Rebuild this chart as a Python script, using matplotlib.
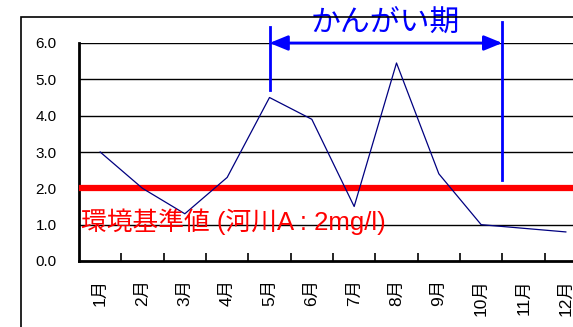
import matplotlib
matplotlib.use("Agg")
import matplotlib.pyplot as plt
from matplotlib.patches import Rectangle

plt.rcParams['font.family'] = ['Liberation Sans', 'Noto Sans CJK JP']

months = ["1月", "2月", "3月", "4月", "5月", "6月", "7月", "8月", "9月", "10月", "11月", "12月"]
bod = [3.0, 2.0, 1.3, 2.3, 4.5, 3.9, 1.5, 5.45, 2.4, 1.0, 0.9, 0.8]
standard = 2.0
standard_label = "環境基準値 (河川A : 2mg/l)"
yticks = [0.0, 1.0, 2.0, 3.0, 4.0, 5.0, 6.0]
season_label = "かんがい期"
season_start, season_end = 4, 9.5

W, H = 573, 327
fig = plt.figure(figsize=(W / 100, H / 100), dpi=100)

# outer chart frame (extends past the right and bottom edges)
fig.patches.append(Rectangle((21 / W, -0.1), 1.2, (H - 17) / H + 0.1,
                             transform=fig.transFigure, fill=False,
                             edgecolor="black", linewidth=1.2))

ax = fig.add_axes([79 / W, 1 - 261 / H, (587 - 79) / W, (261 - 43) / H])
x = list(range(len(months)))

ax.set_xlim(-0.5, len(months) - 0.5)
ax.set_ylim(0, 6)
ax.set_yticks(yticks)
ax.set_yticklabels([f"{v:.1f}" for v in yticks], fontsize=11)
ax.tick_params(axis="y", length=0, pad=16)
for v in yticks[1:]:
    ax.axhline(v, color="black", linewidth=1.0, zorder=1)

ax.set_xticks(x)
ax.set_xticklabels(months, rotation=90, fontsize=12.5)
ax.set_xticks([i + 0.5 for i in x[:-1]], minor=True)
ax.tick_params(axis="x", which="major", length=0, pad=13)
ax.tick_params(axis="x", which="minor", direction="in", length=6, width=1.2)

for s in ["top", "right"]:
    ax.spines[s].set_visible(False)
ax.spines["left"].set_linewidth(2)
ax.spines["bottom"].set_linewidth(2)

ax.axhline(standard, color="#ff0000", linewidth=4.5, zorder=3)
ax.plot(x, bod, color="#000080", linewidth=0.9, zorder=4)
ax.text(-0.45, 1.07, standard_label, color="#ff0000", fontsize=18.5,
        va="center", ha="left", zorder=5)

blue = "#0000ff"
ax.plot([season_start, season_start], [6.44, 4.71], color=blue, lw=2, clip_on=False)
ax.plot([season_end, season_end], [6.58, 2.23], color=blue, lw=2, clip_on=False)
ax.annotate("", xy=(season_start, 6.0), xytext=(season_end, 6.0),
            arrowprops=dict(arrowstyle="<|-|>,head_length=1.1,head_width=0.45",
                            color=blue, lw=2, shrinkA=0, shrinkB=0),
            annotation_clip=False)
ax.text(6.73, 6.55, season_label, color=blue, fontsize=21.5,
        ha="center", va="center", clip_on=False)

fig.savefig("out.png", dpi=100)
